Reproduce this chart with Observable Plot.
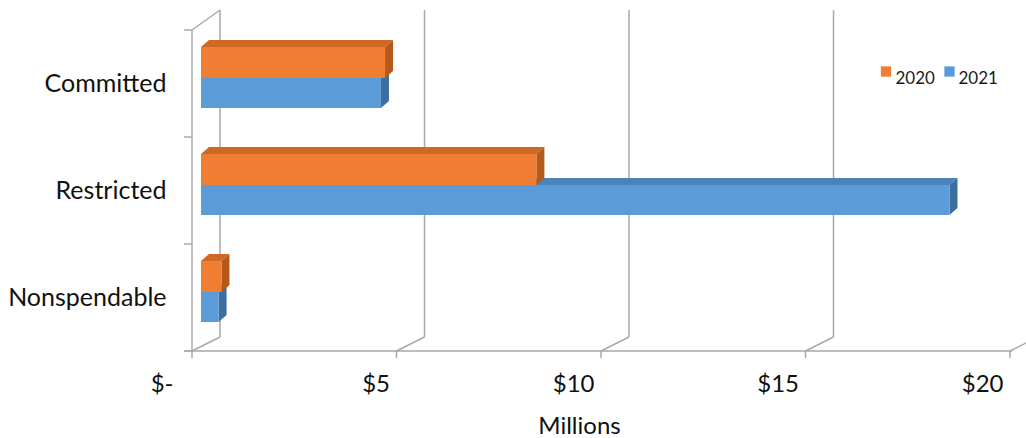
<!DOCTYPE html>
<html>
<head>
<meta charset="utf-8">
<script src="https://cdn.jsdelivr.net/npm/d3@7"></script>
<script src="https://cdn.jsdelivr.net/npm/@observablehq/plot@0.6"></script>
<style>
  body { margin: 0; background: #fff; }
  #chart svg { display: block; }
</style>
</head>
<body>
<div id="chart"></div>
<script>
// Fund balance by classification, in millions of dollars
const categories = ["Committed", "Restricted", "Nonspendable"];
const years = ["2020", "2021"];
const values2020 = [4.5, 8.2, 0.5];
const values2021 = [4.4, 18.3, 0.43];
const xTicks = [0, 5, 10, 15, 20];
// accounting format pads the zero dash on the right
const xTickLabels = ["$-\u2002", "$5", "$10", "$15", "$20"];
const xLabel = "Millions";

const seriesValues = {"2020": values2020, "2021": values2021};
const rows = years.flatMap(year =>
  categories.map((category, i) => ({category, year, value: seriesValues[year][i]}))
);

// colours of the three visible faces of each extruded bar
const palette = {
  "2020": {front: "#EF7E32", top: "#CF6822", side: "#B5581A"},
  "2021": {front: "#5B9BD7", top: "#4A83BC", side: "#3C6E9F"}
};
// vertical slot of each series inside its category band
const slot = {
  "2020": {insetTop: 17, insetBottom: 59},
  "2021": {insetTop: 48, insetBottom: 29}
};

const FONT = "Lato, 'Open Sans', sans-serif";
const GRID = "#a8a8a8";
const WALL = {dx: 28, dyTop: -20, dyBottom: -14}; // depth of the chart box
const BAR = {offset: 9, dx: 8, dy: -7};          // bar inset and extrusion

// walls, floor and gridlines of the 3-D box
function box(index, {x, y}, values, dims) {
  const top = dims.marginTop;
  const bottom = dims.height - dims.marginBottom;
  const x0 = x(xTicks[0]);
  const g = d3.create("svg:g")
    .attr("fill", "none")
    .attr("stroke", GRID)
    .attr("stroke-width", 1.5);
  // back gridlines
  for (const t of xTicks) {
    g.append("line")
      .attr("x1", x(t) + WALL.dx).attr("x2", x(t) + WALL.dx)
      .attr("y1", top + WALL.dyTop).attr("y2", bottom + WALL.dyBottom);
  }
  // floor: diagonals, front edge and ticks
  for (const t of xTicks) {
    g.append("line")
      .attr("x1", x(t)).attr("y1", bottom)
      .attr("x2", x(t) + WALL.dx).attr("y2", bottom + WALL.dyBottom);
    g.append("line")
      .attr("x1", x(t)).attr("x2", x(t))
      .attr("y1", bottom).attr("y2", bottom + 7);
  }
  g.append("line")
    .attr("x1", x0 - 8).attr("x2", x(xTicks[xTicks.length - 1]) + 2)
    .attr("y1", bottom).attr("y2", bottom);
  // left wall: front edge, top diagonal and category separators
  g.append("line").attr("x1", x0).attr("x2", x0).attr("y1", top).attr("y2", bottom);
  g.append("line")
    .attr("x1", x0).attr("y1", top)
    .attr("x2", x0 + WALL.dx).attr("y2", top + WALL.dyTop);
  const edges = categories.map(c => y(c)).concat([y(categories[categories.length - 1]) + y.bandwidth()]);
  for (const e of edges) {
    g.append("line").attr("x1", x0 - 8).attr("x2", x0).attr("y1", e).attr("y2", e);
  }
  return g.node();
}

// top and right faces of one series' bars
function extrusion(year) {
  return (index, {x, y}, values, dims) => {
    const g = d3.create("svg:g");
    const {insetTop, insetBottom} = slot[year];
    for (const d of rows.filter(r => r.year === year)) {
      const x1 = x(0) + BAR.offset;
      const x2 = x(d.value) + BAR.offset;
      const y1 = y(d.category) + insetTop;
      const y2 = y(d.category) + y.bandwidth() - insetBottom;
      g.append("polygon")
        .attr("fill", palette[year].top)
        .attr("points", [[x1, y1], [x1 + BAR.dx, y1 + BAR.dy], [x2 + BAR.dx, y1 + BAR.dy], [x2, y1]].join(" "));
      g.append("polygon")
        .attr("fill", palette[year].side)
        .attr("points", [[x2, y1], [x2 + BAR.dx, y1 + BAR.dy], [x2 + BAR.dx, y2 + BAR.dy], [x2, y2]].join(" "));
    }
    return g.node();
  };
}

function seriesMarks(year) {
  return [
    extrusion(year),
    Plot.barX(rows.filter(r => r.year === year), {
      x: "value",
      y: "category",
      fill: palette[year].front,
      dx: BAR.offset,
      ...slot[year]
    })
  ];
}

const legendMarks = years.flatMap((year, i) => [
  Plot.dot([year], {
    frameAnchor: "top-right",
    symbol: "square",
    r: 5.8,
    fill: palette[year].front,
    dx: -124.5 + i * 63.5,
    dy: 41
  }),
  Plot.text([year], {
    frameAnchor: "top-right",
    text: d => d,
    textAnchor: "start",
    fontSize: 17,
    fill: "#1a1a1a",
    dx: -115 + i * 63,
    dy: 41
  })
]);

const chart = Plot.plot({
  width: 1026,
  height: 438,
  marginTop: 30,
  marginBottom: 87,
  marginLeft: 192,
  marginRight: 16,
  style: {fontFamily: FONT, background: "#fff", color: "#111"},
  x: {domain: [xTicks[0], xTicks[xTicks.length - 1]], axis: null},
  y: {domain: categories, padding: 0, axis: null},
  marks: [
    box,
    Plot.text(categories, {
      y: d => d,
      frameAnchor: "left",
      textAnchor: "end",
      dx: -26,
      fontSize: 25,
      fill: "#111"
    }),
    Plot.text(xTicks, {
      x: d => d,
      text: (d, i) => xTickLabels[i],
      frameAnchor: "bottom",
      textAnchor: "end",
      dx: -7,
      dy: 40,
      fontSize: 24,
      fill: "#111"
    }),
    Plot.text([xLabel], {
      frameAnchor: "bottom",
      text: d => d,
      dx: -22,
      dy: 82,
      fontSize: 24,
      fill: "#111"
    }),
    ...seriesMarks("2021"),
    ...seriesMarks("2020"),
    ...legendMarks
  ]
});

document.getElementById("chart").append(chart);
</script>
</body>
</html>
